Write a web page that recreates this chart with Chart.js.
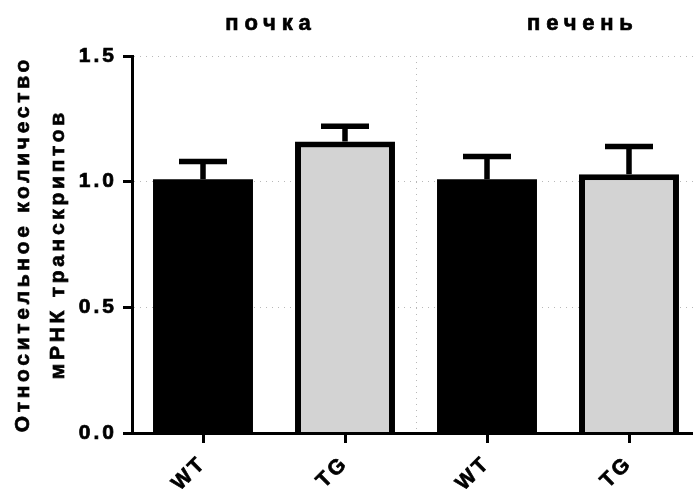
<!DOCTYPE html>
<html>
<head>
<meta charset="utf-8">
<script src="https://cdn.jsdelivr.net/npm/chart.js@4/dist/chart.umd.min.js"></script>
<style>
  html, body { margin: 0; padding: 0; overflow: hidden; background: #fff; }
  #wrap { width: 700px; height: 490px; }
</style>
</head>
<body>
<div id="wrap"><canvas id="c" width="700" height="490"></canvas></div>
<script>
// Relative transcript levels, mean ± SEM per group
const categories = ['WT', 'TG', 'WT', 'TG'];
const groupNames = ['почка', 'печень'];
const means = [1.01, 1.16, 1.01, 1.03];
const errors = [0.07, 0.06, 0.09, 0.11];
const yTickValues = [0.0, 0.5, 1.0, 1.5];
const yTitleLines = ['Относительное количество', 'мРНК транскриптов'];

const FONT = '"Liberation Sans", Arial, Helvetica, sans-serif';
const GRID = '#b8b8b8';
const TEXT_STROKE = 0.7;

// draw heavy text with extra tracking, visually centred on cx
function spacedText(ctx, text, cx, y, spacing) {
  ctx.letterSpacing = spacing + 'px';
  const w = ctx.measureText(text).width - spacing;
  ctx.textAlign = 'left';
  ctx.fillText(text, cx - w / 2, y);
  ctx.strokeText(text, cx - w / 2, y);
}

// wide tracking for tick labels
const tracking = {
  id: 'tracking',
  beforeLayout(chart) { chart.ctx.letterSpacing = '3px'; },
  beforeDraw(chart) { chart.ctx.letterSpacing = '3px'; }
};

// dotted separator between the two organ groups
const separator = {
  id: 'separator',
  beforeDatasetsDraw(chart) {
    const { ctx, chartArea, scales: { x } } = chart;
    const sx = Math.round((x.getPixelForValue(1) + x.getPixelForValue(2)) / 2) + 0.5;
    ctx.save();
    ctx.strokeStyle = GRID;
    ctx.lineWidth = 1;
    ctx.setLineDash([1, 5]);
    ctx.beginPath();
    ctx.moveTo(sx, chartArea.top);
    ctx.lineTo(sx, chartArea.bottom);
    ctx.stroke();
    ctx.restore();
  }
};

// upper SEM whiskers with caps
const errorBars = {
  id: 'errorBars',
  afterDatasetsDraw(chart) {
    const { ctx, scales: { y } } = chart;
    const meta = chart.getDatasetMeta(0);
    ctx.save();
    ctx.strokeStyle = '#000';
    ctx.lineWidth = 5.5;
    ctx.lineCap = 'butt';
    meta.data.forEach((bar, i) => {
      const top = y.getPixelForValue(means[i] + errors[i]);
      const base = y.getPixelForValue(means[i]);
      ctx.beginPath();
      ctx.moveTo(bar.x, base);
      ctx.lineTo(bar.x, top);
      ctx.moveTo(bar.x - 24, top);
      ctx.lineTo(bar.x + 24, top);
      ctx.stroke();
    });
    ctx.restore();
  }
};

// group headings and the two-line axis title
const labels = {
  id: 'labels',
  afterDraw(chart) {
    const { ctx, chartArea } = chart;
    ctx.save();
    ctx.fillStyle = '#000';
    ctx.strokeStyle = '#000';
    ctx.lineWidth = TEXT_STROKE;
    ctx.textBaseline = 'alphabetic';

    ctx.font = 'bold 22px ' + FONT;
    const heads = [268, 580];
    groupNames.forEach((g, i) => spacedText(ctx, g, heads[i], 29.5, 5.8));

    ctx.font = 'bold 21px ' + FONT;
    const cy = (chartArea.top + chartArea.bottom) / 2 + 1.5;
    const baselines = [28.5, 64];
    yTitleLines.forEach((line, i) => {
      ctx.save();
      ctx.translate(baselines[i], cy);
      ctx.rotate(-Math.PI / 2);
      spacedText(ctx, line, 0, 0, 3.7);
      ctx.restore();
    });
    ctx.restore();
  }
};

new Chart(document.getElementById('c'), {
  type: 'bar',
  data: {
    labels: categories,
    datasets: [{
      data: means,
      backgroundColor: ['#000000', '#d3d3d3', '#000000', '#d3d3d3'],
      borderColor: '#000000',
      borderWidth: [0, 6, 0, 6],
      borderSkipped: 'bottom',
      categoryPercentage: 1,
      barPercentage: 0.704
    }]
  },
  options: {
    responsive: false,
    animation: false,
    devicePixelRatio: 1,
    layout: { padding: { top: 56, right: 0, bottom: 0, left: 0 } },
    plugins: { legend: { display: false }, tooltip: { enabled: false }, title: { display: false } },
    scales: {
      x: {
        type: 'category',
        afterFit(scale) { scale.height = 57; },
        grid: {
          drawOnChartArea: false,
          offset: false,
          tickColor: '#000',
          tickWidth: 3,
          tickLength: 10
        },
        border: { display: true, color: '#000', width: 3, z: 1 },
        ticks: {
          color: '#000',
          font: { family: FONT, size: 21, weight: 'bold' },
          textStrokeColor: '#000',
          textStrokeWidth: TEXT_STROKE,
          minRotation: 45,
          maxRotation: 45,
          autoSkip: false,
          padding: 8
        }
      },
      y: {
        min: 0,
        max: 1.5,
        afterFit(scale) { scale.width = 132; },
        afterBuildTicks(scale) { scale.ticks = yTickValues.map(v => ({ value: v })); },
        grid: {
          color: c => (c.tick && c.tick.value === 0) ? 'rgba(0,0,0,0)' : GRID,
          lineWidth: 1,
          tickColor: '#000',
          tickWidth: 3,
          tickLength: 9
        },
        border: { display: true, color: '#000', width: 3, dash: [1, 5], z: 1 },
        ticks: {
          color: '#000',
          font: { family: FONT, size: 21, weight: 'bold' },
          textStrokeColor: '#000',
          textStrokeWidth: TEXT_STROKE,
          padding: 6,
          callback: v => Number(v).toFixed(1)
        }
      }
    }
  },
  plugins: [tracking, separator, errorBars, labels]
});
</script>
</body>
</html>
